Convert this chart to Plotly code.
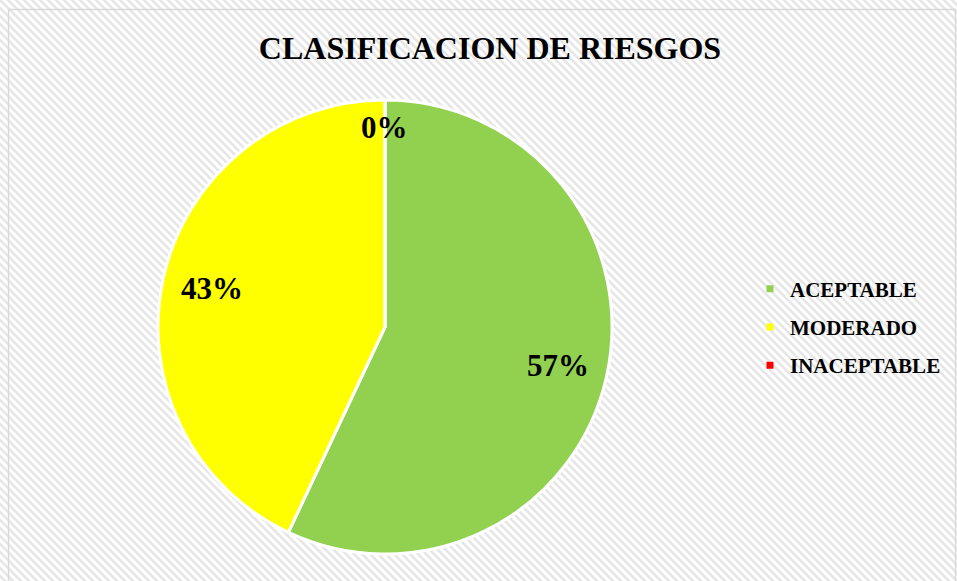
import base64
import math
import plotly.graph_objects as go

categorias = ['ACEPTABLE', 'MODERADO', 'INACEPTABLE']
porcentajes = [57, 43, 0]
colores = ['#92D050', '#FFFF00', '#FF0000']

W, H = 957, 581
M_TOP, M_BOT = 100, 27
CX, CY, R = 385, 327, 227

# fondo tramado tipo Excel con borde gris
svg = f"""<svg xmlns='http://www.w3.org/2000/svg' width='{W}' height='{H}'>
<defs><pattern id='p' width='8' height='8' patternUnits='userSpaceOnUse'>
<rect width='8' height='8' fill='white'/>
<path d='M-2,-2 L10,10 M-2,6 L2,10 M6,-2 L10,2' stroke='#e6e6e6' stroke-width='2.6'/>
</pattern></defs>
<rect width='{W}' height='{H}' fill='url(#p)'/>
<rect x='8.5' y='9.5' width='{W - 10}' height='{H - 8}' fill='none' stroke='#d9d9d9' stroke-width='1.5'/>
</svg>"""
fondo = 'data:image/svg+xml;base64,' + base64.b64encode(svg.encode()).decode()

alto = H - M_TOP - M_BOT

fig = go.Figure()

fig.add_trace(go.Pie(
    labels=categorias,
    values=porcentajes,
    marker=dict(colors=colores, line=dict(color='white', width=3)),
    sort=False,
    direction='clockwise',
    rotation=0,
    textinfo='none',
    hoverinfo='label+percent',
    showlegend=False,
    domain=dict(x=[(CX - R) / W, (CX + R) / W], y=[0, 1])
))

# etiquetas de porcentaje (como en Excel, hacia el borde de cada sector)
total = sum(porcentajes)
acum = 0
anotaciones = []
for v in porcentajes:
    ang = math.radians((acum + v / 2) / total * 360)
    r = R * (0.78 if v > 0 else 0.88)
    px = CX + r * math.sin(ang)
    py = CY - r * math.cos(ang)
    anotaciones.append(dict(
        x=px / W, y=(H - M_BOT - py) / alto, xref='paper', yref='paper',
        xanchor='center', yanchor='middle',
        text=f'<b>{v}%</b>', showarrow=False,
        font=dict(family='Liberation Serif', size=31, color='black')
    ))
    acum += v

# leyenda con marcadores cuadrados
for i, (nombre, color) in enumerate(zip(categorias, colores)):
    fig.add_trace(go.Scatter(
        x=[None], y=[None],
        mode='markers',
        name=nombre,
        legendgroup=str(i),
        marker=dict(symbol='square', size=7, color=color)
    ))

fig.update_layout(
    width=W, height=H,
    margin=dict(l=0, r=0, t=M_TOP, b=M_BOT),
    paper_bgcolor='white',
    plot_bgcolor='rgba(0,0,0,0)',
    title=dict(
        text='<b>CLASIFICACION DE RIESGOS</b>',
        x=490 / W, xanchor='center', y=1 - 48 / H, yanchor='middle',
        font=dict(family='Liberation Serif', size=32, color='black')
    ),
    xaxis=dict(visible=False),
    yaxis=dict(visible=False),
    legend=dict(
        x=750 / W, xanchor='left', y=(H - M_BOT - 327) / alto, yanchor='middle',
        font=dict(family='Liberation Serif', size=21, color='black', weight='bold'),
        tracegroupgap=8,
        bgcolor='rgba(0,0,0,0)'
    ),
    annotations=anotaciones,
    images=[dict(
        source=fondo, xref='paper', yref='paper',
        x=0, y=1 + M_TOP / alto, sizex=1, sizey=H / alto,
        xanchor='left', yanchor='top', sizing='stretch', layer='below'
    )]
)

fig.write_html('out.html', config={'displayModeBar': False},
               post_script="document.body.style.margin='0';")
